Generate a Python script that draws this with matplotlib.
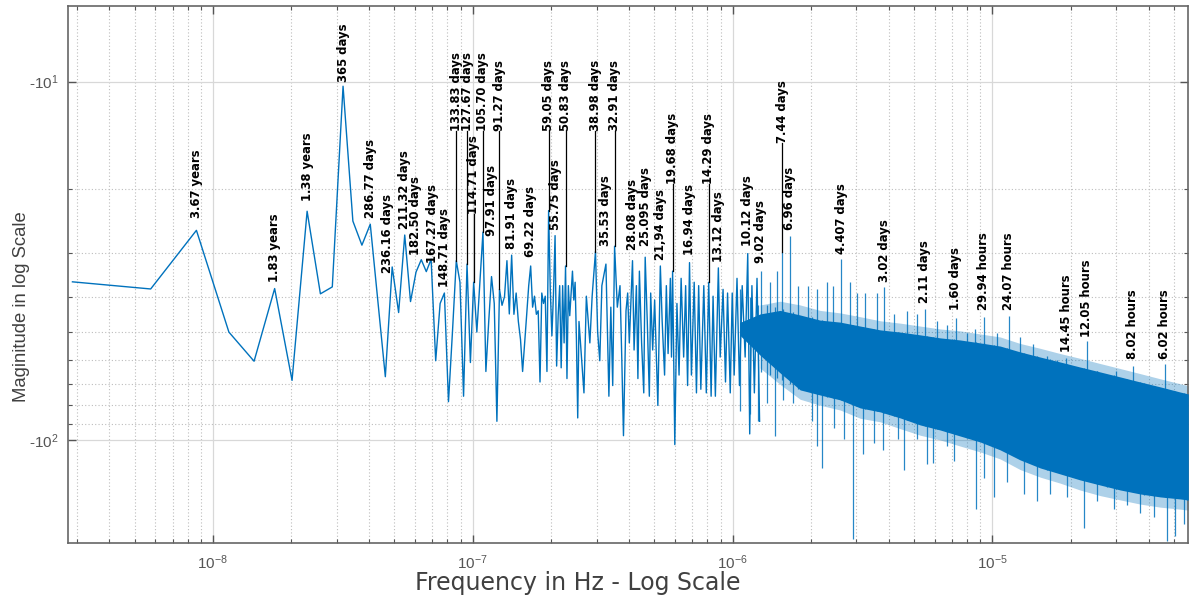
import numpy as np
import matplotlib
matplotlib.use("Agg")
import matplotlib.pyplot as plt
from matplotlib.ticker import FixedLocator, FixedFormatter, LogLocator, NullFormatter

# ---------------- data ----------------
T_DAYS = 4015                      # record length (days)
F1 = 1.0 / (T_DAYS * 86400.0)      # FFT bin spacing in Hz

# spectrum trace: FFT bin index and magnitude (plotted as negative log)
bins = [1, 2, 3, 4, 5, 6, 7, 8, 9, 10, 11, 12, 13, 14, 15, 16, 17, 18, 19, 20,
        21, 22, 23, 24, 25, 26, 27, 28, 29, 30, 31, 32, 33, 34, 35, 36, 37, 38, 39, 40,
        41, 42, 43, 44, 45, 46, 47, 48, 49, 50, 51, 52, 53, 54, 55, 56, 57, 58, 59, 60,
        61, 62, 63, 64, 65, 66, 67, 68, 69, 70, 71, 72, 73, 74, 75, 76, 77, 78, 79, 80,
        81, 82, 83, 84, 85, 86, 87, 88, 89,
        93, 95, 98, 100, 103, 105, 107, 109, 113, 116, 118, 120, 122, 125, 128, 130,
        132, 135, 137, 139, 143, 145, 148, 150, 152, 155, 158, 160, 163, 166, 168, 171,
        174, 179, 183, 186, 190, 193, 196, 200, 202, 204, 208, 212, 216, 220, 225, 229,
        233, 237, 241, 247, 252, 257, 262, 269, 275, 281, 287, 292, 298, 306, 311, 319,
        326, 332, 340, 346, 352, 361, 369, 378, 388, 397, 404, 412, 421, 431, 441]
mag = [36.2, 37.9, 26.0, 50.0, 60.3, 37.8, 68.2, 23.0, 39.1, 37.4, 10.3, 24.5, 28.6, 25.0, 41.6, 66.6, 32.9, 44.1, 26.8, 41.1,
       34.0, 31.4, 33.9, 31.3, 60.1, 41.6, 38.9, 78.2, 50.0, 31.6, 36.3, 75.5, 32.3, 60.8, 36.3, 50.0, 36.0, 26.3, 64.4, 46.6,
       35.0, 41.6, 88.7, 38.0, 42.1, 39.8, 31.6, 44.5, 30.5, 44.6, 38.9, 46.7, 52.4, 64.4, 53.6, 44.6, 37.1, 32.7, 42.6, 39.7,
       44.6, 43.6, 68.9, 38.9, 41.6, 39.7, 64.4, 22.9, 38.0, 51.2, 38.9, 26.9, 62.2, 45.0, 37.1, 62.9, 37.1, 53.6, 32.7, 67.4,
       37.1, 45.0, 38.9, 33.8, 40.7, 36.3, 52.4, 86.8, 46.7,
       73.9, 39.7, 53.6, 39.7, 29.8, 50.0, 60.1, 37.1, 32.3, 75.5, 42.6, 70.5, 28.8, 42.6, 37.1, 58.7,
       97.3, 43.6, 38.9, 53.6, 31.6, 56.1, 37.1, 67.4, 33.8, 53.6, 73.9, 30.9, 46.7, 75.5, 38.9, 56.1,
       40.7, 80.1, 32.7, 46.7, 65.9, 37.1, 57.4, 35.4, 58.7, 33.8, 103.0, 41.6, 65.9, 35.4, 58.7, 37.1,
       70.5, 32.0, 65.9, 36.3, 73.9, 37.1, 72.2, 37.1, 73.9, 36.3, 75.5, 39.7, 75.5, 33.1, 58.7, 38.0,
       68.9, 38.9, 73.9, 38.9, 65.9, 35.4, 70.5, 37.1, 58.7, 30.2, 96.2, 37.1, 73.9, 35.4, 88.7]

# dense high-frequency part: solid core of the trace
core_bins = [370, 443, 529, 632, 754, 901, 1076, 1284, 1533, 1830, 2185, 2609, 3115,
             3720, 4441, 5302, 6331, 7557, 9024, 10775, 12865, 15360, 18340, 19690]
core_top = [47.0, 44.5, 43.5, 44.8, 46.3, 46.9, 48.1, 49.3, 50.0, 50.9, 51.9, 52.6, 53.6,
            54.7, 56.8, 58.7, 60.6, 62.6, 64.6, 66.7, 68.9, 71.1, 73.5, 74.4]
core_bot = [51.0, 58.0, 65.0, 72.5, 74.9, 77.3, 81.4, 83.5, 86.8, 90.8, 93.8, 97.5, 101.3,
            106.6, 113.7, 119.7, 124.4, 129.3, 133.6, 137.9, 141.5, 144.2, 146.1, 147.1]
# thinner fringe of many small spikes around the core
fringe_bins = [443, 529, 632, 754, 901, 1076, 1284, 1533, 1830, 2185, 2609, 3115,
               3720, 4441, 5302, 6331, 7557, 9024, 10775, 12865, 15360, 18340, 19690]
fringe_top = [42.0, 41.0, 42.0, 43.5, 44.2, 45.3, 46.5, 47.2, 48.1, 49.0, 49.6, 50.6,
              51.6, 53.8, 55.5, 57.4, 59.2, 61.2, 63.2, 65.3, 67.5, 69.7, 70.6]
fringe_bot = [63.0, 70.0, 77.0, 80.0, 82.5, 87.0, 89.0, 93.0, 97.0, 100.0, 104.0, 108.0,
              113.0, 121.0, 127.0, 132.0, 138.0, 143.0, 147.0, 151.0, 154.0, 156.0, 157.0]

# individual spikes in the dense part (bin, upper end, lower end)
streak_bins = [445, 484, 514, 540, 577, 621, 678, 733, 801, 846, 911, 983, 1044, 1124, 1247, 1330,
               1445, 1627, 1777, 1903, 2122, 2319, 2509, 2769, 2980, 3218, 3612, 4003, 4441, 4983,
               5627, 6147, 6668, 7339, 7997, 8763, 9577, 10370, 12015, 13243, 14469, 16007, 17810, 19460,
               371, 406, 436, 470, 506, 543, 594, 701, 733, 766, 849, 928, 1013, 1107, 1210, 1322,
               1510, 1579, 1777, 1942, 2059, 2319, 2459, 2999, 3208, 3505, 3947, 4572, 5148, 5794,
               6718, 7782, 8763, 10150, 11430, 12860, 14469, 16300, 17540, 18880]
streak_top = [33.8, 36.2, 33.8, 29.8, 27.0, 37.1, 37.1, 37.9, 36.2, 37.1, 31.3, 36.2, 38.9, 38.9, 38.9, 37.5,
              44.5, 43.6, 44.6, 43.1, 46.7, 47.8, 45.6, 50.3, 49.0, 45.5, 50.3, 45.0, 51.5, 54.1,
              58.3, 59.7, 59.0, 62.7, 52.8, 64.3, 65.9, 64.3, 62.0, 69.2, 70.9, 61.2, 76.3, 76.3,
              38.0, 40.0, 42.0, 42.0, 42.5, 43.0, 44.0, 45.5, 46.0, 46.3, 47.0, 47.5, 47.8, 48.3, 49.0, 49.5,
              50.0, 50.2, 50.8, 51.2, 51.5, 52.2, 52.4, 53.3, 53.8, 54.3, 55.5, 57.2, 58.4, 59.6,
              61.2, 62.9, 64.0, 66.0, 67.4, 68.9, 70.5, 72.0, 72.8, 73.8]
streak_bot = [64.6, 66.0, 67.0, 68.0, 70.0, 72.0, 73.0, 74.5, 76.0, 76.5, 77.3, 79.0, 80.5, 82.0, 83.0, 84.0,
              85.5, 88.0, 90.0, 91.5, 93.0, 95.0, 96.5, 98.5, 100.0, 102.0, 105.0, 109.0, 113.0, 117.0,
              121.0, 123.0, 125.0, 128.0, 130.0, 133.0, 135.0, 137.0, 140.0, 142.0, 143.0, 144.0, 145.5, 147.0,
              82.8, 84.6, 88.5, 79.1, 97.3, 77.3, 79.1, 88.7, 104.2, 119.7, 92.9, 99.5, 189.3, 109.1, 101.9, 106.6,
              99.5, 121.0, 99.5, 116.9, 115.6, 104.2, 114.2, 155.8, 128.0, 144.7, 131.2, 141.2, 148.3, 141.2,
              144.7, 176.2, 148.3, 155.8, 152.1, 159.7, 163.6, 192.0, 185.1, 172.0]

# peak annotations
label_text = ["3.67 years", "1.83 years", "1.38 years", "365 days", "286.77 days", "236.16 days",
              "211.32 days", "182.50 days", "167.27 days", "148.71 days", "133.83 days", "127.67 days",
              "114.71 days", "105.70 days", "97.91 days", "91.27 days", "81.91 days", "69.22 days",
              "59.05 days", "55.75 days", "50.83 days", "38.98 days", "35.53 days", "32.91 days",
              "28.08 days", "25.095 days", "21,94 days", "19.68 days", "16.94 days", "14.29 days",
              "13.12 days", "10.12 days", "9.02 days", "7.44 days", "6.96 days", "4.407 days",
              "3.02 days", "2.11 days", "1.60 days", "29.94 hours", "24.07 hours", "14.45 hours",
              "12.05 hours", "8.02 hours", "6.02 hours"]
label_bin = [3, 6, 8, 11, 14, 17, 19, 22, 24, 27, 30, 33, 35, 38, 41, 44, 49, 58, 68, 72, 79, 103, 113, 122,
             143, 160, 183, 204, 237, 281, 306, 397, 445, 540, 577, 911, 1330, 1903, 2509, 3218, 4003,
             6668, 7997, 12015, 16007]
# where the text column sits (in bin units; differs from the peak for crowded labels)
label_text_bin = [3, 6, 8, 11, 14, 16.3, 19, 20.9, 24.2, 27, 30, 33, 35, 38, 41, 44, 49, 58, 68, 72, 79, 103, 113, 122,
                  143, 160, 183, 204, 237, 281, 306, 397, 445, 540, 577, 911, 1330, 1903, 2509, 3218, 4003,
                  6668, 7997, 12015, 16007]
label_base = [24.0, 36.2, 21.6, 10.0, 24.0, 34.1, 25.7, 30.5, 32.0, 37.5, 13.7, 13.7, 23.4, 13.7, 26.9,
              13.7, 29.3, 30.9, 13.7, 26.0, 13.7, 13.7, 28.8, 13.7, 29.5, 28.8, 31.5, 19.3, 30.5, 19.3,
              31.8, 28.8, 32.0, 14.8, 26.0, 30.3, 36.2, 41.6, 43.4, 43.4, 43.4, 56.8, 51.5, 59.6, 59.6]
label_peak = [None, None, None, None, None, None, None, None, None, None, 31.6, 32.3, 36.3, 26.3, None,
              38.0, None, None, 22.9, None, 32.7, 29.8, None, 28.8, None, None, None, 33.8, None, 36.3,
              None, None, None, 29.8, None, None, None, None, None, None, None, None, None, None, None]

# axis
x_limits = (2.77e-9, 5.66e-5)
y_limits = (194.5, 6.14)          # inverted: magnitudes shown as -10^n
y_major = [10, 100]
y_major_labels = ["-$10^{1}$", "-$10^{2}$"]
y_minor = [20, 30, 40, 50, 60, 70, 80, 90]

# ---------------- figure ----------------
plt.rcParams["font.family"] = ["Liberation Sans", "DejaVu Sans"]
plt.rcParams["mathtext.fontset"] = "custom"
plt.rcParams["mathtext.rm"] = "Liberation Sans"
plt.rcParams["mathtext.it"] = "Liberation Sans:italic"

BLUE = "#0072BD"
fig = plt.figure(figsize=(11.9, 6.02), dpi=100)
ax = fig.add_axes([0.0571, 0.0972, 0.9412, 0.8933])
ax.set_xscale("log")
ax.set_yscale("log")

f = np.array(bins) * F1
ax.plot(f, mag, color=BLUE, lw=1.0, zorder=3)

fb = np.array(fringe_bins) * F1
ax.fill_between(fb, fringe_top, fringe_bot, color=BLUE, alpha=0.32, lw=0, zorder=2)
cb = np.array(core_bins) * F1
ax.fill_between(cb, core_top, core_bot, color=BLUE, lw=0, zorder=3)
sb = np.array(streak_bins) * F1
ax.vlines(sb, streak_top, streak_bot, color=BLUE, lw=0.9, alpha=0.85, zorder=3)

for txt, b, tb, base, peak in zip(label_text, label_bin, label_text_bin, label_base, label_peak):
    xf = b * F1
    if peak is not None:
        ax.plot([xf, xf], [peak, base], color="black", lw=0.9, zorder=4)
    ax.text(tb * F1, base, txt, rotation=90, ha="center", va="bottom",
            fontsize=8.4, fontweight="bold", family=["DejaVu Sans"],
            color="black", zorder=5)

ax.set_xlim(*x_limits)
ax.set_ylim(*y_limits)

ax.yaxis.set_major_locator(FixedLocator(y_major))
ax.yaxis.set_major_formatter(FixedFormatter(y_major_labels))
ax.yaxis.set_minor_locator(FixedLocator(y_minor))
ax.yaxis.set_minor_formatter(NullFormatter())
ax.xaxis.set_major_locator(LogLocator(base=10))
ax.xaxis.set_minor_locator(LogLocator(base=10, subs=np.arange(2, 10)))
ax.xaxis.set_minor_formatter(NullFormatter())

ax.grid(which="major", color="#d8d8d8", lw=0.9, ls="-")
ax.grid(which="minor", color="#bdbdbd", lw=0.8, ls=(0, (1, 2)))
ax.set_axisbelow(True)

ax.tick_params(which="both", direction="in", top=True, right=True, color="#555555",
               labelcolor="#555555", labelsize=11, pad=7)
ax.tick_params(which="major", length=6, width=1.0)
ax.tick_params(which="minor", length=3, width=0.8)
for s in ax.spines.values():
    s.set_color("#666666")
    s.set_linewidth(1.2)

ax.set_xlabel("Frequency in Hz - Log Scale", fontsize=17, color="#404040",
              family=["DejaVu Sans"])
ax.set_ylabel("Maginitude in log Scale", fontsize=13.3, color="#404040")
ax.xaxis.set_label_coords(0.455, -0.052)
ax.yaxis.set_label_coords(-0.034, 0.44)

fig.savefig("out.png", dpi=100)
